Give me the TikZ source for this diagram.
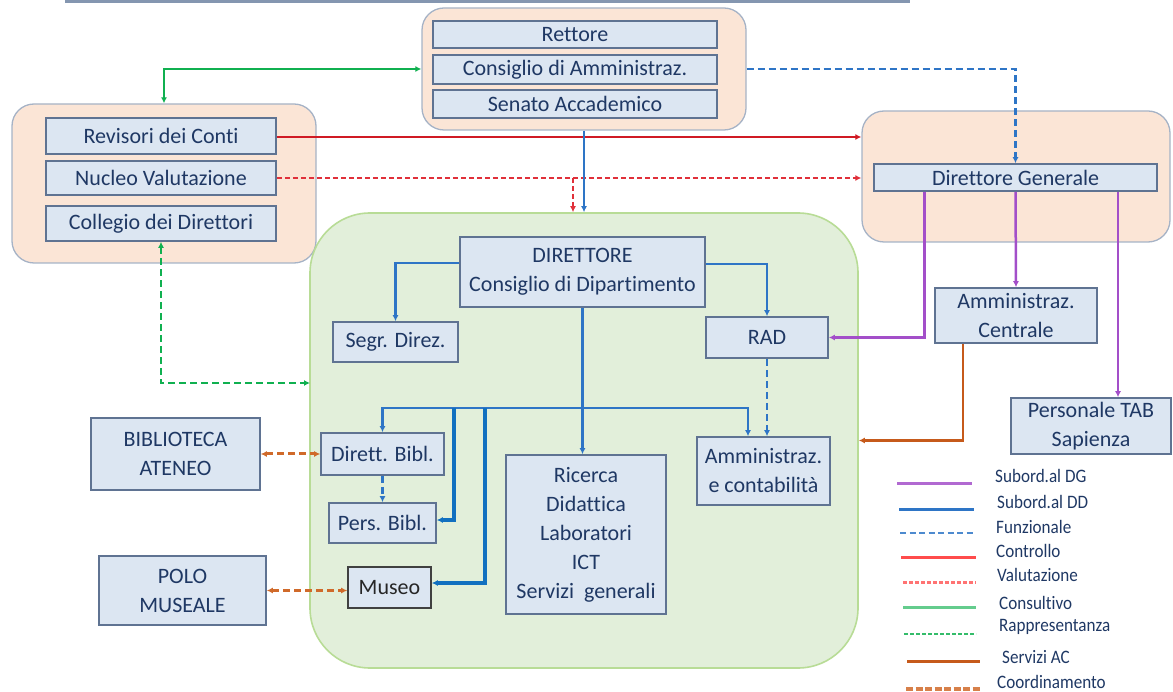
\documentclass[tikz,border=0pt]{standalone}
\usepackage{fontspec}
\setmainfont{Carlito}[Ligatures={NoCommon,NoContextual,NoRare}]
\usetikzlibrary{arrows.meta,calc}
\definecolor{boxfill}{HTML}{DCE6F2}
\definecolor{boxdraw}{HTML}{5F7392}
\definecolor{txt}{HTML}{1F3864}
\definecolor{peach}{HTML}{FBE5D6}
\definecolor{peachdraw}{HTML}{A6B3C6}
\definecolor{grfill}{HTML}{E2EFDA}
\definecolor{grdraw}{HTML}{B8DC96}
\definecolor{cDG}{HTML}{A34FC9}
\definecolor{cDD}{HTML}{2E75C6}
\definecolor{cDDt}{HTML}{1170C0}
\definecolor{cRed}{HTML}{D01A24}
\definecolor{cRedD}{HTML}{E0303A}
\definecolor{cGreen}{HTML}{10B050}
\definecolor{cOrange}{HTML}{C65A1B}
\definecolor{cOrangeD}{HTML}{D06A2A}
\definecolor{topline}{HTML}{8496B0}
\tikzset{
  ubox/.style={draw=boxdraw, fill=boxfill, line width=1.6pt, text=txt, align=center,
    inner sep=0pt, font=\fontsize{22}{29}\selectfont},
  grp/.style={draw=peachdraw, fill=peach, line width=1.3pt, rounded corners=22pt, inner sep=0pt},
  arr/.style={-{Latex[length=6pt,width=6pt]}},
  biarr/.style={{Latex[length=6pt,width=6pt]}-{Latex[length=6pt,width=6pt]}},
  lDG/.style={draw=cDG, line width=2.5pt},
  lDD/.style={draw=cDD, line width=2.4pt},
  lDD2/.style={draw=cDDt, line width=3.2pt},
  lFun/.style={draw=cDD, line width=2.4pt, dash pattern=on 7pt off 4pt},
  lCon/.style={draw=cRed, line width=2.5pt},
  lVal/.style={draw=cRedD, line width=2.4pt, dash pattern=on 5pt off 3pt},
  lCons/.style={draw=cGreen, line width=2.6pt},
  lRap/.style={draw=cGreen, line width=2.6pt, dash pattern=on 7pt off 4pt},
  lAC/.style={draw=cOrange, line width=2.5pt},
  lCoo/.style={draw=cOrangeD, line width=3pt, dash pattern=on 7pt off 4pt},
  legtxt/.style={anchor=west, text=txt, inner sep=0pt, font=\fontsize{19}{19}\selectfont}
}
\begin{document}
\begin{tikzpicture}[x=1pt, y=-1pt]
\useasboundingbox (0,0) rectangle (1173,692);
% partial top rule
\draw[topline, line width=3pt] (65,2) -- (910,2);

% group boxes
\node[grp, minimum width=324pt, minimum height=122pt] (topgrp) at (584,69) {};
\node[grp, minimum width=304pt, minimum height=159pt] (leftgrp) at (164,183.5) {};
\node[grp, minimum width=308pt, minimum height=131pt] (rightgrp) at (1016,176.5) {};
\node[draw=grdraw, fill=grfill, line width=1.6pt, rounded corners=60pt, inner sep=0pt,
      minimum width=548pt, minimum height=455pt] (green) at (584,440.5) {};

% top group
\node[ubox, minimum width=284pt, minimum height=27pt] (rettore) at (575,34.5) {Rettore};
\node[ubox, minimum width=284pt, minimum height=29pt] (cda) at (575,69.5) {Consiglio di Amministraz.};
\node[ubox, minimum width=284pt, minimum height=28pt] (senato) at (575,104) {Senato Accademico};

% left group
\node[ubox, minimum width=230pt, minimum height=36pt] (revisori) at (161,136) {Revisori dei Conti};
\node[ubox, minimum width=230pt, minimum height=34pt] (nucleo) at (161,178) {Nucleo Valutazione};
\node[ubox, minimum width=230pt, minimum height=35pt] (collegio) at (161,223.5) {Collegio dei Direttori};

% right group
\node[ubox, minimum width=283pt, minimum height=27pt] (dg) at (1015.5,177.5) {Direttore Generale};

% inside green
\node[ubox, minimum width=245pt, minimum height=70pt] (dir) at (582.5,272) {DIRETTORE\\Consiglio di Dipartimento};
\node[ubox, minimum width=125pt, minimum height=40pt] (segr) at (395.5,342) {Segr. Direz.};
\node[ubox, minimum width=122pt, minimum height=41pt] (rad) at (767,337.5) {RAD};
\node[ubox, minimum width=123pt, minimum height=42pt] (dbibl) at (382.5,454) {Dirett. Bibl.};
\node[ubox, minimum width=107pt, minimum height=40pt] (pbibl) at (382.5,523) {Pers. Bibl.};
\node[ubox, draw=black!75, text=black!85, minimum width=83pt, minimum height=41pt] (museo) at (389.5,587.5) {Museo};
\node[ubox, minimum width=160pt, minimum height=159pt] (ricerca) at (586,534.5) {Ricerca\\Didattica\\Laboratori\\ICT\\Servizi\ \ generali};
\node[ubox, minimum width=133pt, minimum height=68pt] (ammcont) at (763.5,471) {Amministraz.\\e contabilità};

% outside
\node[ubox, minimum width=169pt, minimum height=72pt] (biblio) at (175.5,454) {BIBLIOTECA\\ATENEO};
\node[ubox, minimum width=167pt, minimum height=69pt] (polo) at (182.5,590.5) {POLO\\MUSEALE};
\node[ubox, minimum width=162pt, minimum height=55pt] (ammc) at (1016,315.5) {Amministraz.\\Centrale};
\node[ubox, minimum width=160pt, minimum height=56pt] (tab) at (1091,426) {Personale TAB\\Sapienza};

% ---- connectors ----
% consultivo
\draw[lCons, biarr] (topgrp.west) -| (leftgrp.north);
% funzionale top -> DG
\draw[lFun, arr] (topgrp.east) -| (dg.north);
% controllo
\draw[lCon, arr] ([yshift=-1pt]revisori.east) -- ([yshift=-1pt]revisori.east -| rightgrp.west);
% valutazione
\draw[lVal, arr] (nucleo.east) -- (nucleo.east -| rightgrp.west);
\coordinate (vb) at (573,178);
\draw[lVal, arr] (vb) -- (vb |- green.north);
% top group -> department
\draw[lDD, arr] (topgrp.south) -- (topgrp.south |- green.north);
% rappresentanza
\coordinate (gw) at (310,383);
\draw[lRap, biarr] (collegio.south) |- (gw);
% DG subordination
\draw[lDG, arr] ([xshift=-91pt]dg.south) |- (rad.east);
\draw[lDG, arr] (dg.south) -- (ammc.north);
\draw[lDG, arr] ([xshift=102.5pt]dg.south) -- ([xshift=102.5pt]dg.south |- tab.north);
% servizi AC
\draw[lAC, arr] ([xshift=-53pt]ammc.south) |- (green.east);
% coordinamento
\draw[lCoo, biarr] (biblio.east) -- (dbibl.west);
\draw[lCoo, biarr] (polo.east) -- (polo.east -| museo.west);

% inside department
\draw[lDD, arr] ([yshift=9pt]dir.west) -| (segr.north);
\draw[lDD, arr] ([yshift=8pt]dir.east) -| (rad.north);
\draw[lDD, arr] (dir.south) -- (dir.south |- ricerca.north);
\coordinate (bus) at (582.5,408);
\draw[lDD, arr] (bus) -| (dbibl.north);
\draw[lDD, arr] (bus) -| ([xshift=-15.5pt]ammcont.north);
\coordinate (b1) at (454,408);
\coordinate (b2) at (485,408);
\draw[lDD2, arr] (b1) |- ([yshift=3pt]pbibl.east);
\draw[lDD2, arr] (b2) |- ([yshift=4.5pt]museo.east);
\draw[lFun, arr] (rad.south) -- (rad.south |- ammcont.north);
\draw[lFun, arr] (dbibl.south) -- (pbibl.north);

% ---- legend ----
\node[legtxt] (lg1) at (995,476) {\scalebox{0.9}[1]{Subord.al DG}};
\node[legtxt] (lg2) at (997,502) {\scalebox{0.9}[1]{Subord.al DD}};
\node[legtxt] (lg3) at (996,527) {\scalebox{0.9}[1]{Funzionale}};
\node[legtxt] (lg4) at (996,551) {\scalebox{0.9}[1]{Controllo}};
\node[legtxt] (lg5) at (997,575) {\scalebox{0.9}[1]{Valutazione}};
\node[legtxt] (lg6) at (999,603) {\scalebox{0.9}[1]{Consultivo}};
\node[legtxt] (lg7) at (999,627) {\scalebox{0.9}[1]{Rappresentanza}};
\node[legtxt] (lg8) at (1002,657) {\scalebox{0.9}[1]{Servizi AC}};
\node[legtxt] (lg9) at (997,682) {\scalebox{0.9}[1]{Coordinamento}};
\draw[draw=cDG!85, line width=3pt] (897,483) -- (972,483);
\draw[draw=cDD, line width=3pt] (899,509) -- (974,509);
\draw[draw=cDD!85, line width=2.5pt, dash pattern=on 6pt off 3.5pt] (900,533) -- (975,533);
\draw[draw=red!70, line width=3pt] (901,557) -- (976,557);
\draw[draw=red!55, line width=3pt, dash pattern=on 4pt off 2pt] (903,582) -- (976,582);
\draw[draw=cGreen!65, line width=3pt] (903,607) -- (976,607);
\draw[draw=cGreen!85, line width=2pt, dash pattern=on 4pt off 2pt] (904,634) -- (976,634);
\draw[draw=cOrange, line width=3pt] (907,661) -- (980,661);
\draw[draw=cOrangeD!85, line width=4.5pt, dash pattern=on 7pt off 2.5pt] (906,689) -- (981,689);
\end{tikzpicture}
\end{document}
